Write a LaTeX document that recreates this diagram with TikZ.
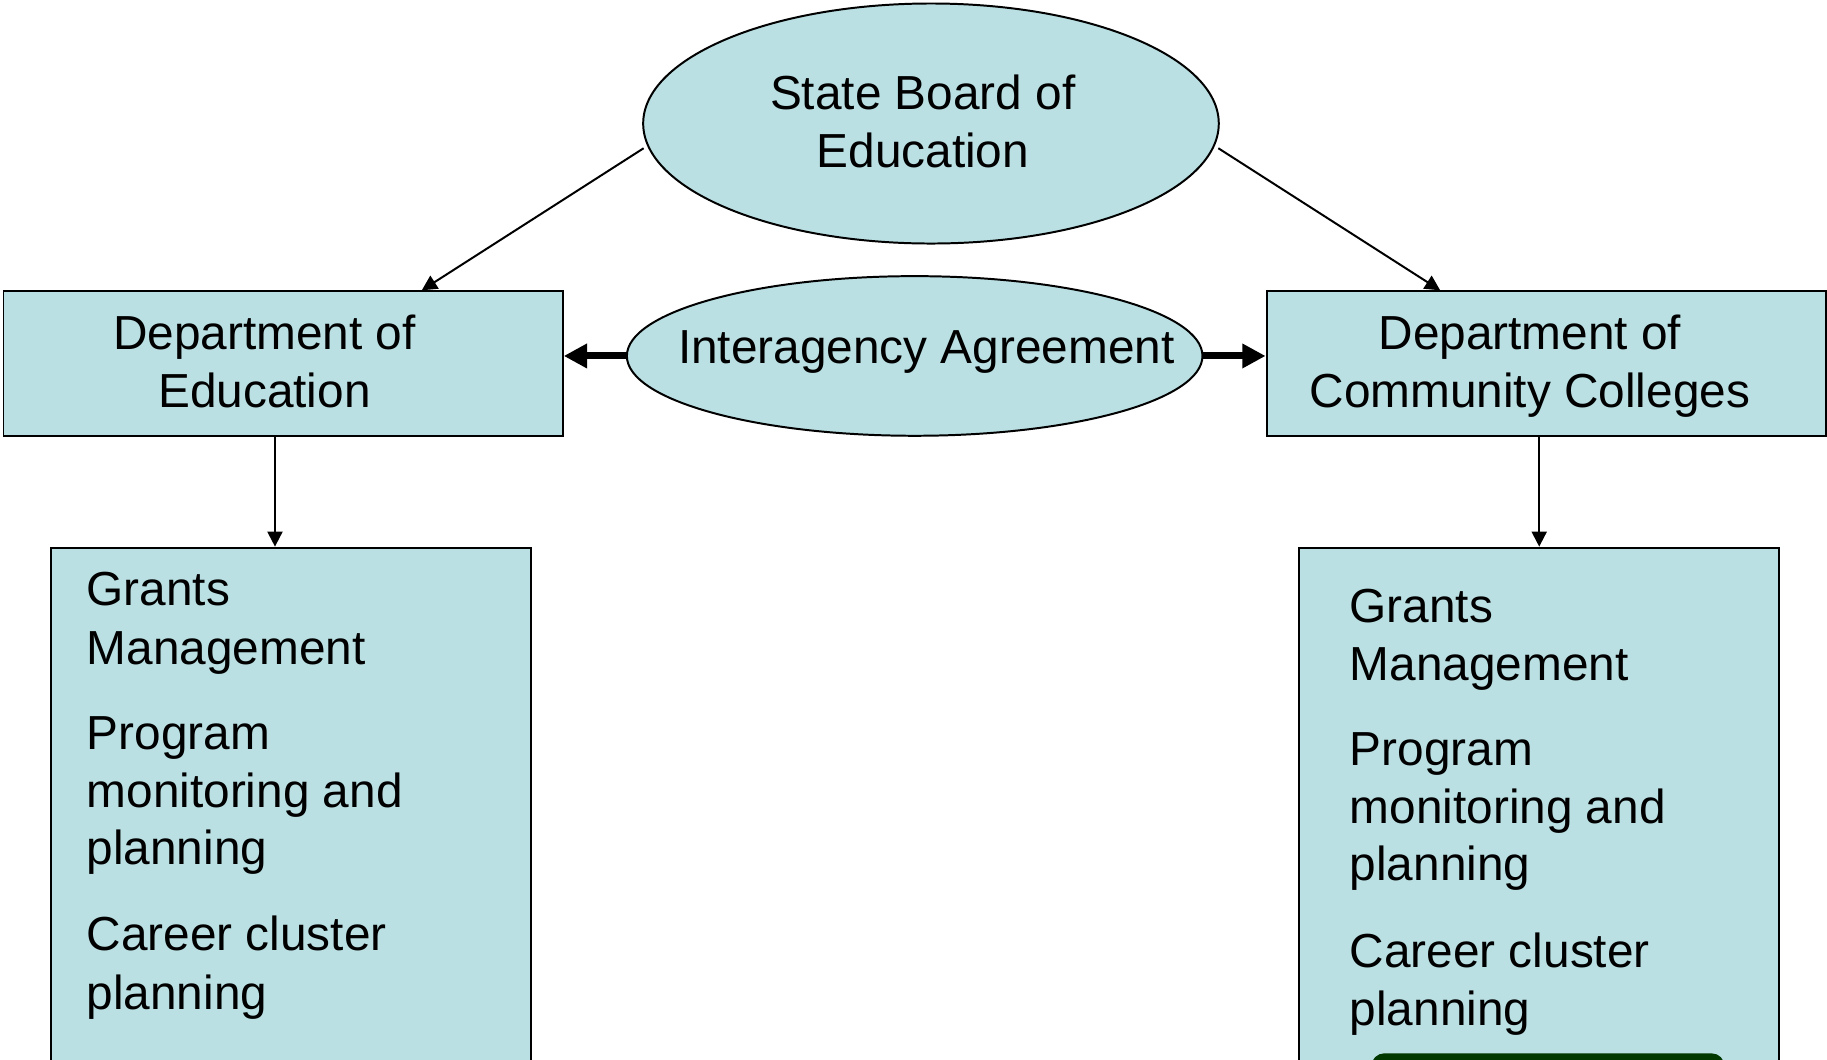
\documentclass[tikz,border=0pt]{standalone}
\usepackage{fontspec}
\setmainfont{Liberation Sans}
\usetikzlibrary{shapes.geometric,arrows.meta,calc}
\definecolor{boxfill}{HTML}{BAE0E3}
\definecolor{darkgreen}{RGB}{0,56,0}
\begin{document}
\begin{tikzpicture}[x=0.5pt,y=-0.5pt,
  bluebox/.style={draw=black, line width=0.85pt, fill=boxfill, rectangle, inner sep=0pt},
  blueoval/.style={draw=black, line width=0.85pt, fill=boxfill, ellipse, inner sep=0pt},
  txt/.style={font=\fontsize{20.5pt}{25pt}\selectfont, inner sep=0pt, anchor=base},
  ltxt/.style={txt, anchor=base west},
  slimarrow/.style={-{Triangle[length=6.5pt,width=6.5pt]}, line width=0.85pt},
  boldarrow/.style={-{Triangle[length=10pt,width=10pt]}, line width=3pt}]
\useasboundingbox (0,0) rectangle (1568,909.7);
% shapes
\node[blueoval, minimum width=247pt, minimum height=103pt] (sbe) at (799,106) {};
\node[blueoval, minimum width=247pt, minimum height=68.5pt] (ia) at (785,305.5) {};
\node[bluebox, minimum width=240pt, minimum height=62pt] (doe) at (243,312) {};
\node[bluebox, minimum width=240pt, minimum height=62pt] (dcc) at (1327,312) {};
\node[bluebox, minimum width=206pt, minimum height=221pt] (gl) at (250,691) {};
\node[bluebox, minimum width=206pt, minimum height=221pt] (gr) at (1321,691) {};
\fill[darkgreen, rounded corners=5.5pt] (1177,904) rectangle (1480,930);
% texts
\node[txt] (sbe1) at (792,93.6) {State Board of};
\node[txt] (sbe2) at (792,144) {Education};
\node[txt] (ia1) at (795,312) {Interagency Agreement};
\node[txt] (doe1) at (227,300) {Department of};
\node[txt] (doe2) at (227,350) {Education};
\node[txt] (dcc1) at (1313,300) {Department of};
\node[txt] (dcc2) at (1313,350) {Community Colleges};
\node[ltxt] (gl1) at (74,520) {Grants};
\node[ltxt] (gl2) at (74,570) {Management};
\node[ltxt] (gl3) at (74,643) {Program};
\node[ltxt] (gl4) at (74,693) {monitoring and};
\node[ltxt] (gl5) at (74,742) {planning};
\node[ltxt] (gl6) at (74,816) {Career cluster};
\node[ltxt] (gl7) at (74,866) {planning};
\node[ltxt] (gr1) at (1158,534) {Grants};
\node[ltxt] (gr2) at (1158,584) {Management};
\node[ltxt] (gr3) at (1158,657) {Program};
\node[ltxt] (gr4) at (1158,707) {monitoring and};
\node[ltxt] (gr5) at (1158,756) {planning};
\node[ltxt] (gr6) at (1158,830) {Career cluster};
\node[ltxt] (gr7) at (1158,880) {planning};
% connectors
\draw[slimarrow] ($(sbe.185)+(-4,0)$) -- ($(doe.north)+(59.5pt,0)$);
\draw[slimarrow] ($(sbe.-5)+(4,0)$) -- ($(dcc.north)+(-45.5pt,0)$);
\coordinate (dl) at ($(doe.south)+(-3.5pt,0)$);
\draw[slimarrow] (dl) -- (dl |- gl.north);
\draw[slimarrow] (gr.north |- dcc.south) -- (gr.north);
\draw[boldarrow] (ia.west) -- (ia.west -| doe.east);
\draw[boldarrow] (ia.east) -- (ia.east -| dcc.west);
\end{tikzpicture}
\end{document}
